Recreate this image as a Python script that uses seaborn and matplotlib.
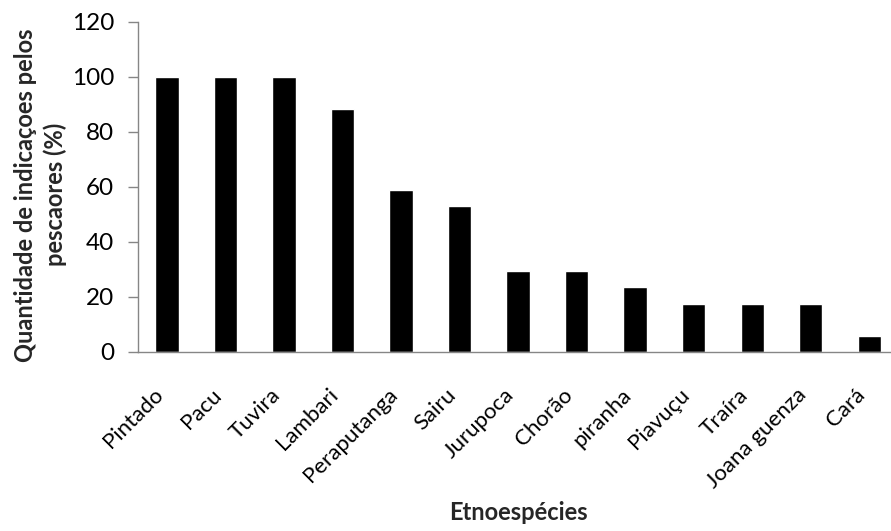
import matplotlib
matplotlib.use("Agg")
import matplotlib.pyplot as plt
import seaborn as sns
import pandas as pd

# -----------------------------
# DATA
# -----------------------------
especies = ["Pintado", "Pacu", "Tuvira", "Lambari", "Peraputanga", "Sairu",
            "Jurupoca", "Chorão", "piranha", "Piavuçu", "Traíra",
            "Joana guenza", "Cará"]
percentual = [100, 100, 100, 88.2, 58.8, 52.9, 29.4, 29.4, 23.5, 17.6,
              17.6, 17.6, 5.9]
y_ticks = [0, 20, 40, 60, 80, 100, 120]

df = pd.DataFrame({"especie": especies, "pct": percentual})

# -----------------------------
# STYLE
# -----------------------------
sns.set_style("white")
plt.rcParams["font.family"] = ["Lato", "DejaVu Sans"]

GRAY = "#868686"

fig = plt.figure(figsize=(8.91, 5.31), dpi=100)
ax = fig.add_axes([0.1545, 0.3371, 0.854, 0.622])

sns.barplot(data=df, x="especie", y="pct", color="black", width=0.4,
            saturation=1, ax=ax)

ax.set_ylim(0, 120)
ax.set_yticks(y_ticks)
ax.set_xlim(-0.5, len(especies) - 0.5)

for s in ["top", "right"]:
    ax.spines[s].set_visible(False)
for s in ["left", "bottom"]:
    ax.spines[s].set_color(GRAY)
    ax.spines[s].set_linewidth(1.0)

ax.tick_params(axis="y", which="both", left=True, length=7, width=1,
               color=GRAY, pad=10, labelsize=17.5, labelcolor="black")
ax.tick_params(axis="x", which="both", bottom=False, pad=20,
               labelsize=16, labelcolor="black")
plt.setp(ax.get_xticklabels(), rotation=45, ha="right")

ax.set_xlabel("Etnoespécies", fontsize=17, fontweight="bold")
ax.xaxis.set_label_coords(0.5, -0.452)
ax.set_ylabel("Quantidade de indicaçoes pelos\npescaores (%)", fontsize=17,
              fontweight="bold", linespacing=1.3)
ax.yaxis.set_label_coords(-0.093, 0.476)

fig.savefig("out.png", dpi=100)
plt.close(fig)
